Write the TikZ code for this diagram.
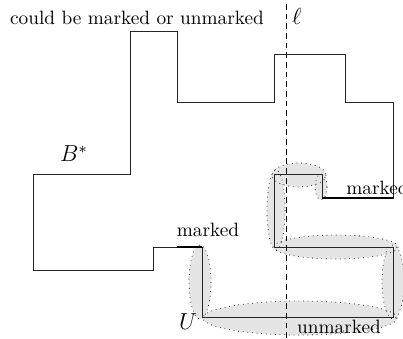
\documentclass[tikz,border=0pt]{standalone}
\usepackage{amsmath}
\usepackage{amssymb}
\usetikzlibrary{positioning,calc}

\begin{document}
\begin{tikzpicture}[
    x=0.0182cm, y=-0.0182cm,
    piece/.style={fill=gray!20},
    pieceborder/.style={draw=black!90, dotted, thin},
    boundary/.style={draw=black!85, line width=0.5pt},
    markededge/.style={draw, black, line width=1.3pt},
    cutline/.style={draw, dashed, dash pattern=on 3pt off 2pt}
]
    \useasboundingbox (0,0) rectangle (403,338);

    % pieces of U
    \foreach \cx/\cy/\rx/\ry in {200/282/11/37, 300/318/97/17, 393/282/11/37,
        336/247/62/12, 276/210/9/40, 299/175/27/12, 321/187/6/13}
        \fill[piece] (\cx,\cy) ellipse [x radius=\rx, y radius=\ry];
    \foreach \cx/\cy/\rx/\ry in {200/282/11/37, 300/318/97/17, 393/282/11/37,
        336/247/62/12, 276/210/9/40, 299/175/27/12, 321/187/6/13}
        \draw[pieceborder] (\cx,\cy) ellipse [x radius=\rx, y radius=\ry];

    % the line l
    \coordinate (ltop) at (286,4);
    \coordinate (lbot) at (286,338);
    \draw[cutline] (ltop) -- (lbot);
    \node (ell) at (297,16) {\large $\ell$};

    % boundary of B*
    \draw[boundary] (130,31) -- (177,31) -- (177,102) -- (274,102) -- (274,54)
        -- (345,54) -- (345,102) -- (393,102) -- (393,198) -- (322,198)
        -- (322,174) -- (274,174) -- (274,247) -- (393,247) -- (393,317)
        -- (202,317) -- (202,247) -- (153,247) -- (153,270) -- (33,270)
        -- (33,174) -- (130,174) -- cycle;

    \coordinate (m1a) at (177,247);
    \coordinate (m1b) at (202,247);
    \coordinate (m2a) at (322,198);
    \coordinate (m2b) at (393,198);
    \draw[markededge] (m1a) -- (m1b);
    \draw[markededge] (m2a) -- (m2b);

    \node (bstar) at (74,154) {\large $B^*$};
    \node (uset) at (188,322) {\large $U$};
    \node (either) at (137,18) {could be marked or unmarked};
    \node (mark1) at (208,230) {marked};
    \node[anchor=west, inner sep=0pt] (mark2) at (346,188) {marked};
    \node (unmark) at (339,327) {unmarked};
\end{tikzpicture}
\end{document}
